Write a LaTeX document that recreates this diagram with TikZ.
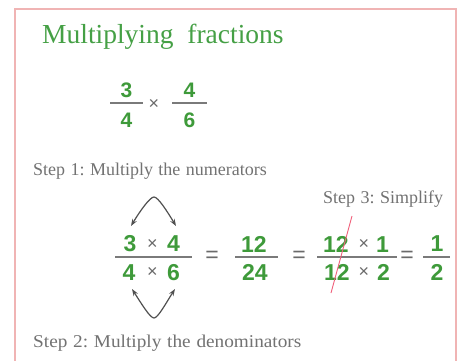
\documentclass[tikz,border=0pt]{standalone}
\usepackage{fontspec}
\setmainfont{Liberation Serif}
\newfontfamily\digitfont{Liberation Sans}
\usetikzlibrary{arrows.meta}
\definecolor{framepink}{HTML}{F0B4B4}
\definecolor{titlegreen}{HTML}{45A045}
\definecolor{numgreen}{HTML}{3E9A3A}
\definecolor{textgray}{HTML}{727272}
\definecolor{opgray}{HTML}{6A6A6A}
\definecolor{bargray}{HTML}{7A7A7A}
\definecolor{arrowgray}{HTML}{505050}
\definecolor{strikered}{HTML}{F0607A}
\tikzset{
  num/.style={inner sep=0pt, anchor=center, text=numgreen, font=\digitfont\bfseries\fontsize{23}{23}\selectfont},
  smallnum/.style={num, font=\digitfont\bfseries\fontsize{21}{21}\selectfont},
  op/.style={inner sep=0pt, anchor=center, text=opgray, font=\digitfont\fontsize{18}{18}\selectfont},
  eqsign/.style={inner sep=0pt, anchor=center, text=opgray, font=\digitfont\fontsize{23}{23}\selectfont},
  bar/.style={draw=bargray, line width=1.3pt},
  steptext/.style={inner sep=0pt, anchor=base west, text=textgray, font=\fontsize{18}{18}\selectfont},
  curvearrow/.style={draw=arrowgray, line width=1.2pt, {Stealth[length=7pt,width=5pt]}-{Stealth[length=7pt,width=5pt]}},
}
\begin{document}
\begin{tikzpicture}[x=1pt,y=-1pt]
\useasboundingbox (0,0) rectangle (459,360);
\fill[white] (0,0) rectangle (459,360);
% frame
\draw[framepink, line width=2.2pt] (15,370) -- (15,9) -- (456,9) -- (456,370);
% title
\node[inner sep=0pt, anchor=base west, text=titlegreen, font=\fontsize{27.5}{27.5}\selectfont] (title) at (42,43) {Multiplying\hspace{0.5em}fractions};
% small fraction
\node[smallnum] (sa) at (126.5,90.5) {3};
\node[smallnum] (sb) at (126.5,120.5) {4};
\draw[bar] (110,103) -- (143,103);
\node[op] (sx) at (154,104) {×};
\node[smallnum] (sc) at (189.5,90.5) {4};
\node[smallnum] (sd) at (189.5,120.5) {6};
\draw[bar] (172,103) -- (207,103);
% step 1
\node[steptext] (step1) at (33,175) {Step\hspace{0.3em}1:\hspace{0.3em}Multiply\hspace{0.3em}the\hspace{0.3em}numerators};
% main equation
\node[num] (n3) at (130,244) {3};
\node[op] (nx) at (152.5,244) {×};
\node[num] (n4) at (173.5,244) {4};
\draw[bar] (115,257) -- (192,257);
\node[num] (d4) at (129,272.5) {4};
\node[op] (dx) at (152.5,272.5) {×};
\node[num] (d6) at (173.5,272.5) {6};
\node[eqsign] (eq1) at (212,257) {=};
\node[num] (n12) at (254,244) {12};
\draw[bar] (235,257) -- (278,257);
\node[num] (d24) at (255,272.5) {24};
\node[eqsign] (eq2) at (299,257) {=};
\node[num] (m12) at (336,244.5) {12};
\node[op] (mx) at (364,244.5) {×};
\node[num] (m1) at (382.5,244.5) {1};
\draw[bar] (317,257) -- (397,257);
\node[num] (e12) at (337,272.5) {12};
\node[op] (ex) at (364,272.5) {×};
\node[num] (e2) at (383.5,272.5) {2};
\node[eqsign] (eq3) at (407,257) {=};
\node[num] (r1) at (437,244) {1};
\draw[bar] (423,257) -- (450,257);
\node[num] (r2) at (437,272.5) {2};
% cancel stroke
\coordinate (cs1) at (352,216);
\coordinate (cs2) at (331,293);
\draw[strikered, line width=0.9pt] (cs1) -- (cs2);
% curved arrows
\coordinate (ta) at (131,226);
\coordinate (tb) at (176,226);
\coordinate (ba) at (132,289);
\coordinate (bb) at (175,289);
\draw[curvearrow] (ta) .. controls (140,211) and (150,197) .. (154,197) .. controls (158,197) and (167,211) .. (tb);
\draw[curvearrow] (ba) .. controls (141,303) and (150,318) .. (154,318) .. controls (158,318) and (166,303) .. (bb);
% step 3, step 2
\node[steptext] (step3) at (323,203) {Step\hspace{0.3em}3:\hspace{0.3em}Simplify};
\node[steptext] (step2) at (33,347) {\scalebox{1.07}[1]{Step\hspace{0.3em}2:\hspace{0.3em}Multiply\hspace{0.3em}the\hspace{0.3em}denominators}};
\end{tikzpicture}
\end{document}
